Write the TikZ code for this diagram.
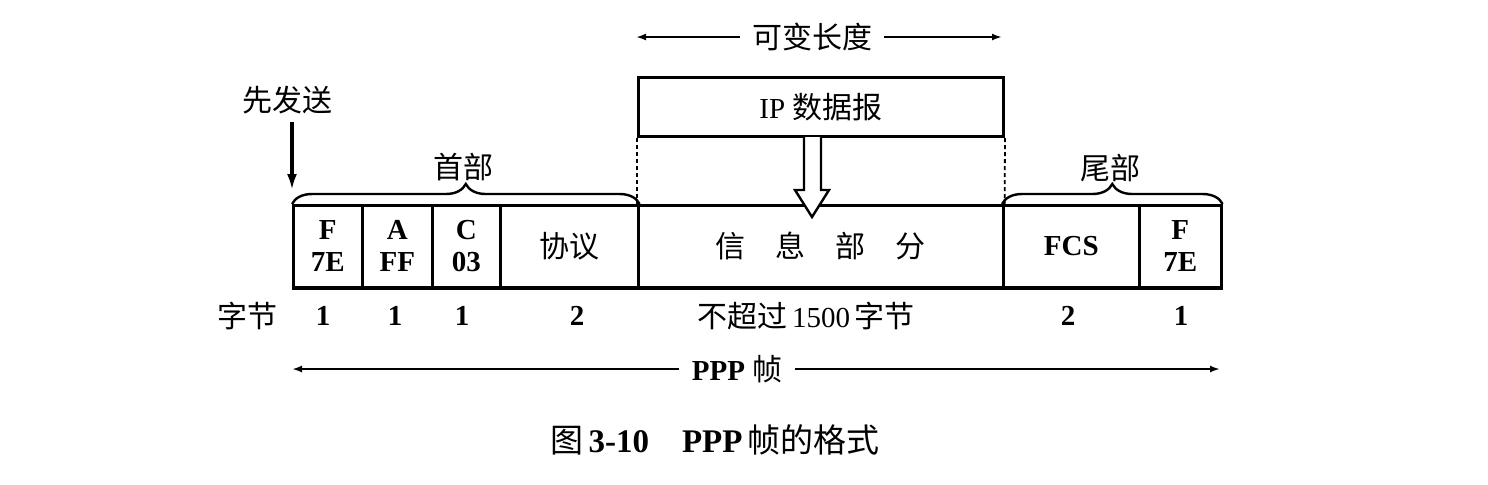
\documentclass[tikz,border=0pt]{standalone}
\usepackage{fontspec}
\setmainfont{Liberation Serif}
\newfontfamily\cjk{Noto Sans CJK SC}
\usetikzlibrary{decorations.pathreplacing,arrows.meta}
\begin{document}
\begin{tikzpicture}[x=0.5pt,y=-0.5pt,
  cell/.style={draw,line width=1.3pt,minimum height=41pt,inner sep=0pt,anchor=north west,
    font=\fontsize{14.5}{16}\selectfont\bfseries,align=center},
  txt/.style={inner sep=2pt,font=\fontsize{14.5}{16}\selectfont},
  cjktxt/.style={inner sep=4pt,font=\fontsize{15}{16}\selectfont\cjk},
  tip/.style={-{Latex[length=5pt,width=3.5pt]},line width=1pt},
  bracestyle/.style={decorate,decoration={brace,amplitude=10pt,aspect=0.5},line width=1.2pt},
  guide/.style={line width=0.9pt,dash pattern=on 2pt off 1.5pt}]
\useasboundingbox (0,0) rectangle (1488,484);
% frame cells
\node[cell,minimum width=34.5pt] (f1) at (292,204) {F\\7E};
\node[cell,minimum width=35pt] (a) at (361,204) {A\\FF};
\node[cell,minimum width=34pt] (c) at (431,204) {C\\03};
\node[cell,minimum width=69pt,font=\fontsize{15}{16}\selectfont\cjk] (proto) at (499,204) {协议};
\node[cell,minimum width=182.5pt,font=\fontsize{15}{16}\selectfont\cjk] (info) at (637,204) {信\hspace{15pt}息\hspace{15pt}部\hspace{15pt}分};
\node[cell,minimum width=68pt] (fcs) at (1002,204) {FCS};
\node[cell,minimum width=41pt] (f2) at (1138,204) {F\\7E};
\draw[line width=1.8pt] (f1.south west) -- (f2.south east);
% IP datagram
\node[draw,line width=1.5pt,anchor=north west,minimum width=182.5pt,minimum height=29.5pt,inner sep=0pt,
  font=\fontsize{14.5}{16}\selectfont] (ip) at (637,76) {IP {\cjk\fontsize{15}{16}\selectfont 数据报}};
\draw[guide] (ip.south west) -- (info.north west);
\draw[guide] (ip.south east) -- (info.north east);
% hollow arrow
\draw[line width=1.2pt,fill=white] (804,137) -- (804,190) -- (795,190) -- (812,217) -- (829,190) -- (821,190) -- (821,137);
% variable length
\node[cjktxt,inner sep=6pt] (var) at (812,37) {可变长度};
\coordinate (vl) at (636,37);
\coordinate (vr) at (1002,37);
\draw[tip] (var.west) -- (vl);
\draw[tip] (var.east) -- (vr);
% first sent
\node[cjktxt] (first) at (287,100) {先发送};
\coordinate (sendtop) at (292,122);
\coordinate (sendbot) at (292,190);
\draw[-{Latex[length=8pt,width=5pt]},line width=1.8pt] (sendtop) -- (sendbot);
% braces
\draw[bracestyle] (f1.north west) -- (proto.north east);
\draw[bracestyle] (fcs.north west) -- (f2.north east);
\node[cjktxt] (hdr) at (463,167) {首部};
\node[cjktxt] (trl) at (1110,168) {尾部};
% byte row
\node[cjktxt] (bytes) at (247,316) {字节};
\node[txt,font=\fontsize{14.5}{16}\selectfont\bfseries] (b1) at (323,316) {1};
\node[txt,font=\fontsize{14.5}{16}\selectfont\bfseries] (b2) at (395,316) {1};
\node[txt,font=\fontsize{14.5}{16}\selectfont\bfseries] (b3) at (462,316) {1};
\node[txt,font=\fontsize{14.5}{16}\selectfont\bfseries] (b4) at (577,316) {2};
\node[txt] (b5) at (806,316) {{\cjk\fontsize{15}{16}\selectfont 不超过}\,1500\,{\cjk\fontsize{15}{16}\selectfont 字节}};
\node[txt,font=\fontsize{14.5}{16}\selectfont\bfseries] (b6) at (1068,316) {2};
\node[txt,font=\fontsize{14.5}{16}\selectfont\bfseries] (b7) at (1181,316) {1};
% PPP frame
\node[txt,inner sep=6pt] (ppp) at (737,369) {\textbf{PPP} {\cjk\fontsize{15}{16}\selectfont 帧}};
\coordinate (pl) at (292,369);
\coordinate (pr) at (1220,369);
\draw[tip] (ppp.west) -- (pl);
\draw[tip] (ppp.east) -- (pr);
% caption
\node[txt,font=\fontsize{16.5}{18}\selectfont] (cap) at (715,440) {{\cjk 图}\,\textbf{3-10}\quad\textbf{PPP}\,{\cjk 帧的格式}};
\end{tikzpicture}
\end{document}
